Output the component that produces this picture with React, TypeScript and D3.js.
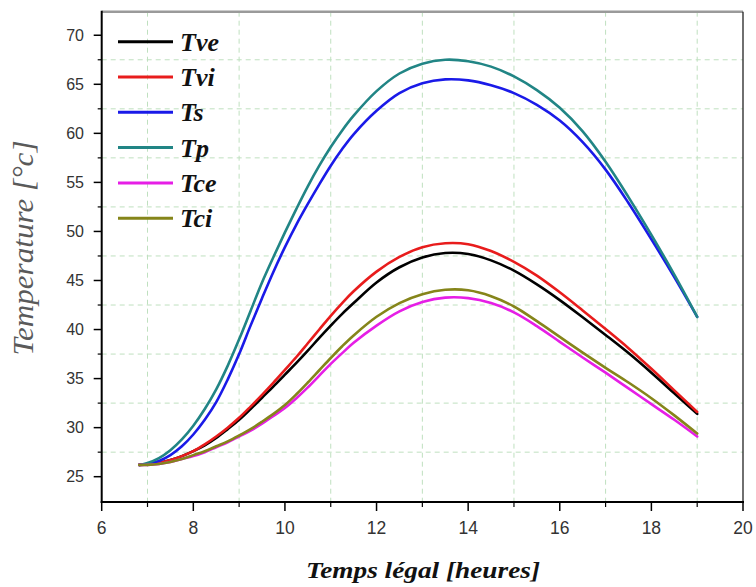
import React from "react";
import * as d3 from "d3";

const hours = [6.82, 7.0, 7.25, 7.5, 7.75, 8.0, 8.25, 8.5, 8.75, 9.0, 9.25, 9.5, 9.75, 10.0, 10.25, 10.5, 10.75, 11.0, 11.25, 11.5, 12.0, 12.5, 13.0, 13.5, 14.0, 14.5, 15.0, 15.5, 16.0, 16.5, 17.0, 17.5, 18.0, 18.5, 19.0];

const Tve = [26.2, 26.25, 26.4, 26.7, 27.1, 27.6, 28.2, 28.95, 29.85, 30.8, 31.9, 33.05, 34.2, 35.4, 36.6, 37.85, 39.15, 40.4, 41.6, 42.7, 44.8, 46.35, 47.35, 47.8, 47.7, 47.05, 46.0, 44.6, 43.0, 41.25, 39.45, 37.6, 35.6, 33.5, 31.4];
const Tvi = [26.2, 26.25, 26.4, 26.7, 27.1, 27.6, 28.3, 29.1, 30.0, 31.0, 32.15, 33.35, 34.6, 35.9, 37.2, 38.6, 40.0, 41.4, 42.7, 43.9, 45.9, 47.4, 48.4, 48.8, 48.7, 48.0, 46.9, 45.5, 43.8, 41.95, 40.05, 38.1, 36.0, 33.8, 31.6];
const Ts = [26.2, 26.3, 26.6, 27.2, 28.1, 29.3, 30.8, 32.6, 34.9, 37.5, 40.4, 43.2, 45.9, 48.4, 50.7, 52.8, 54.8, 56.7, 58.4, 59.9, 62.3, 64.1, 65.1, 65.5, 65.4, 64.9, 64.1, 62.9, 61.3, 59.1, 56.3, 52.9, 49.2, 45.35, 41.3];
const Tp = [26.2, 26.4, 26.9, 27.7, 28.8, 30.2, 31.9, 33.9, 36.3, 39.0, 41.9, 44.8, 47.4, 49.9, 52.3, 54.6, 56.7, 58.6, 60.3, 61.8, 64.3, 66.1, 67.1, 67.5, 67.35, 66.8, 65.8, 64.4, 62.6, 60.2, 57.1, 53.5, 49.65, 45.6, 41.3];
const Tce = [26.2, 26.2, 26.3, 26.5, 26.8, 27.1, 27.5, 28.0, 28.5, 29.1, 29.7, 30.4, 31.2, 32.0, 33.0, 34.1, 35.3, 36.5, 37.6, 38.65, 40.4, 41.85, 42.8, 43.25, 43.2, 42.7, 41.75, 40.35, 38.75, 37.15, 35.6, 34.0, 32.4, 30.8, 29.1];
const Tci = [26.2, 26.2, 26.3, 26.5, 26.8, 27.2, 27.6, 28.1, 28.6, 29.2, 29.85, 30.6, 31.4, 32.3, 33.4, 34.6, 35.85, 37.1, 38.3, 39.4, 41.3, 42.7, 43.6, 44.05, 44.0, 43.4, 42.35, 40.85, 39.25, 37.65, 36.1, 34.6, 33.0, 31.25, 29.4];

const seriesNames = ["Tve", "Tvi", "Ts", "Tp", "Tce", "Tci"];
const seriesValues = [Tve, Tvi, Ts, Tp, Tce, Tci];
const seriesColors = ["#000000", "#e81c1c", "#1a1ae8", "#218585", "#e61ee6", "#85851a"];

const xTicks = [6, 8, 10, 12, 14, 16, 18, 20];
const xMinor = [7, 9, 11, 13, 15, 17, 19];
const yTicks = [25, 30, 35, 40, 45, 50, 55, 60, 65, 70];
const yMinor = [27.5, 32.5, 37.5, 42.5, 47.5, 52.5, 57.5, 62.5, 67.5];

const xTitle = "Temps légal [heures]";
const yTitle = "Temperature [°c]";

export default function App() {
  const W = 756, H = 587;
  const left = 101.7, right = 743, top = 11.7, bottom = 502;
  const x = d3.scaleLinear().domain([6, 20]).range([left, right]);
  const y = d3.scaleLinear().domain([22.42, 72.4]).range([bottom, top]);

  const line = (vals: number[]) =>
    d3
      .line<number>()
      .x((_, i) => x(hours[i]))
      .y((d) => y(d))
      .curve(d3.curveCatmullRom.alpha(0.5))(vals) || "";

  const gridColor = "#bfe0bf";
  const legendX0 = 118, legendX1 = 173, legendY0 = 41.7, legendDy = 35.3;

  return (
    <svg
      width={W}
      height={H}
      style={{ position: "absolute", left: 0, top: 0, background: "#fff" }}
      xmlns="http://www.w3.org/2000/svg"
    >
      <rect x={0} y={0} width={W} height={H} fill="#fff" />
      {/* grid */}
      {xMinor.map((v) => (
        <line key={"gx" + v} x1={x(v)} x2={x(v)} y1={top} y2={bottom} stroke={gridColor} strokeWidth={1} strokeDasharray="5,4" />
      ))}
      {yMinor.map((v) => (
        <line key={"gy" + v} x1={left} x2={right} y1={y(v)} y2={y(v)} stroke={gridColor} strokeWidth={1} strokeDasharray="5,4" />
      ))}
      {/* curves */}
      {seriesValues.map((vals, i) => (
        <path key={seriesNames[i]} d={line(vals)} fill="none" stroke={seriesColors[i]} strokeWidth={2.6} strokeLinecap="round" />
      ))}
      {/* frame */}
      <line x1={left} x2={right} y1={top} y2={top} stroke="#9a9a9a" strokeWidth={2.5} />
      <line x1={right} x2={right} y1={top} y2={bottom} stroke="#222" strokeWidth={1.3} />
      <line x1={left} x2={left} y1={top - 1} y2={bottom + 1} stroke="#000" strokeWidth={2} />
      <line x1={left - 1} x2={right + 1} y1={bottom} y2={bottom} stroke="#000" strokeWidth={2} />
      {/* y ticks */}
      {yTicks.map((v) => (
        <g key={"yt" + v}>
          <line x1={left - 8} x2={left} y1={y(v)} y2={y(v)} stroke="#000" strokeWidth={1.5} />
          <text x={84} y={y(v)} dy="0.36em" textAnchor="end" fontFamily="Liberation Sans, Arial, sans-serif" fontSize={16} fill="#333">
            {v}
          </text>
        </g>
      ))}
      {yMinor.map((v) => (
        <line key={"ym" + v} x1={left - 4} x2={left} y1={y(v)} y2={y(v)} stroke="#000" strokeWidth={1.2} />
      ))}
      {/* x ticks */}
      {xTicks.map((v) => (
        <g key={"xt" + v}>
          <line x1={x(v)} x2={x(v)} y1={bottom} y2={bottom + 9} stroke="#000" strokeWidth={1.5} />
          <text x={x(v)} y={534} textAnchor="middle" fontFamily="Liberation Sans, Arial, sans-serif" fontSize={17.5} fill="#333">
            {v}
          </text>
        </g>
      ))}
      {xMinor.map((v) => (
        <line key={"xm" + v} x1={x(v)} x2={x(v)} y1={bottom} y2={bottom + 5} stroke="#000" strokeWidth={1.2} />
      ))}
      {/* axis titles */}
      <text
        x={423}
        y={578}
        textAnchor="middle"
        fontFamily="Liberation Serif, Times New Roman, serif"
        fontStyle="italic"
        fontWeight="bold"
        fontSize={23}
        fill="#111"
        textLength={234}
        lengthAdjust="spacingAndGlyphs"
      >
        {xTitle}
      </text>
      <text
        transform={`translate(33,248) rotate(-90)`}
        textAnchor="middle"
        fontFamily="Liberation Serif, Times New Roman, serif"
        fontStyle="italic"
        fontSize={29}
        fill="#5a5a5a"
        textLength={215}
        lengthAdjust="spacingAndGlyphs"
      >
        {yTitle}
      </text>
      {/* legend */}
      {seriesNames.map((n, i) => {
        const ly = legendY0 + i * legendDy;
        return (
          <g key={"lg" + n}>
            <line x1={legendX0} x2={legendX1} y1={ly} y2={ly} stroke={seriesColors[i]} strokeWidth={3} />
            <text x={180} y={ly + 9} fontFamily="Liberation Serif, Times New Roman, serif" fontStyle="italic" fontWeight="bold" fontSize={26} fill="#111">
              {n}
            </text>
          </g>
        );
      })}
    </svg>
  );
}
